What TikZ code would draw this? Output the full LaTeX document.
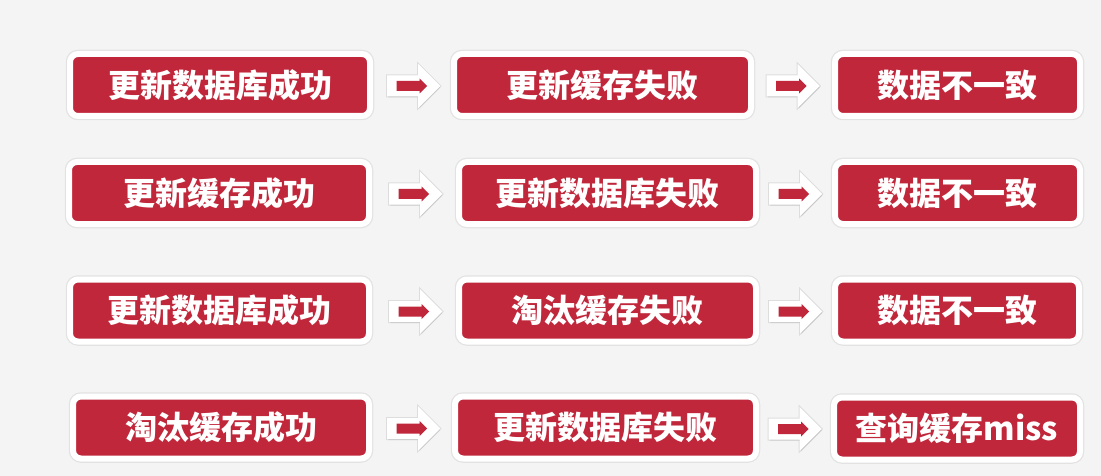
\documentclass[tikz,border=0pt]{standalone}
\usepackage{fontspec}
\newfontfamily\cjk{Noto Sans CJK SC}
\usetikzlibrary{shadows}
\definecolor{boxred}{HTML}{C1273B}
\definecolor{bgcol}{HTML}{F4F4F4}
\tikzset{
  redbox/.style={rectangle, rounded corners=8pt, fill=boxred, draw=white,
    line width=6pt, text=white, inner sep=0pt, minimum height=62pt,
    font=\cjk\bfseries\fontsize{32}{32}\selectfont,
    preaction={draw=black, draw opacity=0.07, line width=8.5pt},
    drop shadow={opacity=0.22, shadow xshift=0.8pt, shadow yshift=-2pt, shadow scale=1.004}},
  arrowouter/.style={fill=white, draw=white, line width=1pt, line join=miter,
    preaction={draw=black, draw opacity=0.09, line width=3pt},
    drop shadow={opacity=0.22, shadow xshift=0.8pt, shadow yshift=-1.5pt}},
  arrowinner/.style={fill=boxred},
  blockarrow/.pic={
    \path[arrowouter] (-26,-10) -- (5,-10) -- (5,-21) -- (26,0)
      -- (5,21) -- (5,10) -- (-26,10) -- cycle;
    \path[arrowinner] (-17,-5) -- (6,-5) -- (6,-7.5) -- (13.5,0)
      -- (6,7.5) -- (6,5) -- (-17,5) -- cycle;}
}
\begin{document}
\begin{tikzpicture}[x=1pt,y=-1pt]
\fill[bgcol] (0,0) rectangle (1101,476);
\useasboundingbox (0,0) rectangle (1101,476);
% row 1
\node[redbox, minimum width=300pt] (r1a) at (220,85) {更新数据库成功};
\node[redbox, minimum width=297pt] (r1b) at (602.5,85) {更新缓存失败};
\node[redbox, minimum width=245pt] (r1c) at (957.5,85) {数据不一致};
% row 2
\node[redbox, minimum width=300pt] (r2a) at (219,193) {更新缓存成功};
\node[redbox, minimum width=297pt] (r2b) at (607.5,193) {更新数据库失败};
\node[redbox, minimum width=245pt] (r2c) at (957.5,193) {数据不一致};
% row 3
\node[redbox, minimum width=299pt] (r3a) at (219.5,310.5) {更新数据库成功};
\node[redbox, minimum width=297pt] (r3b) at (607.5,310.5) {淘汰缓存失败};
\node[redbox, minimum width=244pt] (r3c) at (957,310.5) {数据不一致};
% row 4
\node[redbox, minimum width=296pt] (r4a) at (221,427.5) {淘汰缓存成功};
\node[redbox, minimum width=301pt] (r4b) at (605.5,427.5) {更新数据库失败};
\node[redbox, minimum width=246pt] (r4c) at (957,428.5) {查询缓存miss};
% arrows
\foreach \r in {1,2,3,4}{
  \path (r\r a.east) -- (r\r b.west) coordinate[pos=0.52] (m\r ab);
  \path (r\r b.east) -- (r\r c.west) coordinate[pos=0.5] (m\r bc);
  \pic at ([yshift=-1pt]m\r ab) {blockarrow};
  \pic at ([yshift=-1pt]m\r bc) {blockarrow};
}
\end{tikzpicture}
\end{document}
